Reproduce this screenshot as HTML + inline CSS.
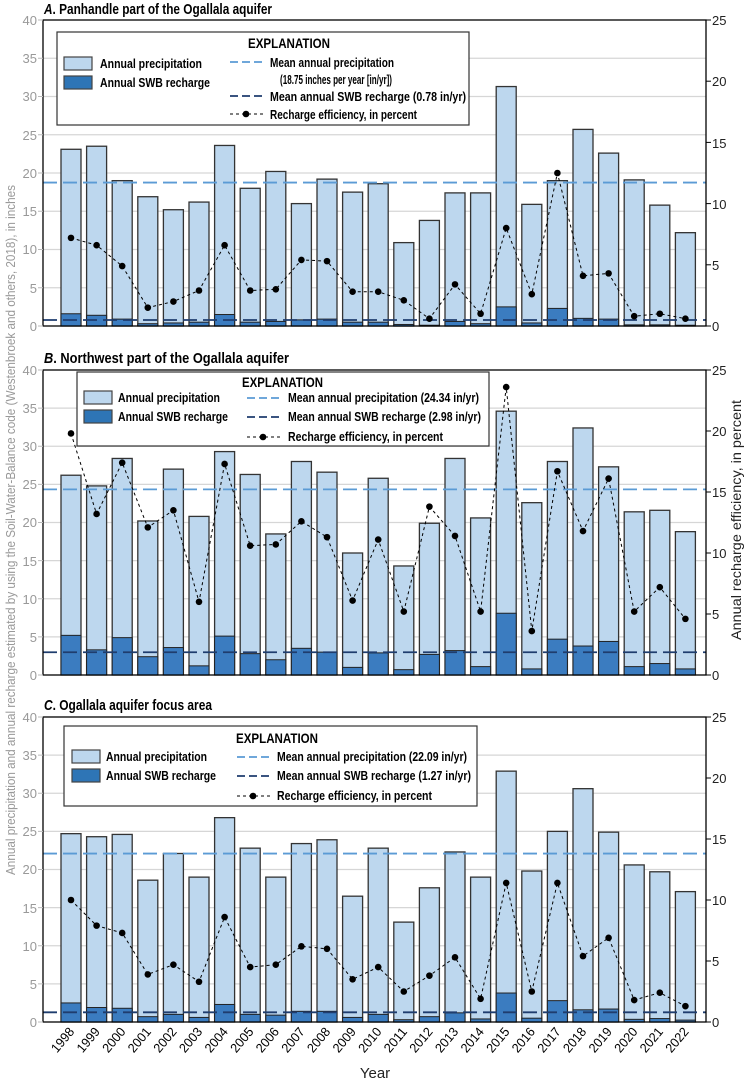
<!DOCTYPE html>
<html><head><meta charset="utf-8">
<style>
html,body{margin:0;padding:0;background:#fff;}
svg{display:block;font-family:"Liberation Sans Narrow","Liberation Sans",sans-serif;}
.t{font-weight:bold;font-size:15px;fill:#000;}
.lg{font-weight:bold;font-size:13px;fill:#000;}
.ll{font-size:13px;fill:#999;text-anchor:end;}
.rl{font-size:13px;fill:#222;}
.yr{font-size:13px;fill:#000;text-anchor:end;}
</style></head><body>
<svg id="s" width="749" height="1083" viewBox="0 0 749 1083" xmlns="http://www.w3.org/2000/svg">
<g id="g"></g>
<text class="t" x="44" y="14" textLength="228" lengthAdjust="spacingAndGlyphs"><tspan font-style="italic">A</tspan>. Panhandle part of the Ogallala aquifer</text>
<text class="t" x="44" y="363" textLength="245" lengthAdjust="spacingAndGlyphs"><tspan font-style="italic">B</tspan>. Northwest part of the Ogallala aquifer</text>
<text class="t" x="44" y="710" textLength="168" lengthAdjust="spacingAndGlyphs"><tspan font-style="italic">C</tspan>. Ogallala aquifer focus area</text>
<g class="ll">
<text x="37" y="25">40</text><text x="37" y="63">35</text><text x="37" y="101">30</text><text x="37" y="140">25</text><text x="37" y="178">20</text><text x="37" y="216">15</text><text x="37" y="254">10</text><text x="37" y="293">5</text><text x="37" y="331">0</text>
<text x="37" y="375">40</text><text x="37" y="413">35</text><text x="37" y="451">30</text><text x="37" y="489">25</text><text x="37" y="527">20</text><text x="37" y="566">15</text><text x="37" y="604">10</text><text x="37" y="642">5</text><text x="37" y="680">0</text>
<text x="37" y="722">40</text><text x="37" y="760">35</text><text x="37" y="798">30</text><text x="37" y="836">25</text><text x="37" y="874">20</text><text x="37" y="913">15</text><text x="37" y="951">10</text><text x="37" y="989">5</text><text x="37" y="1027">0</text>
</g>
<g class="rl">
<text x="712" y="25">25</text><text x="712" y="86">20</text><text x="712" y="148">15</text><text x="712" y="209">10</text><text x="712" y="270">5</text><text x="712" y="331">0</text>
<text x="712" y="375">25</text><text x="712" y="436">20</text><text x="712" y="497">15</text><text x="712" y="558">10</text><text x="712" y="619">5</text><text x="712" y="680">0</text>
<text x="712" y="722">25</text><text x="712" y="783">20</text><text x="712" y="844">15</text><text x="712" y="905">10</text><text x="712" y="966">5</text><text x="712" y="1027">0</text>
</g>
<text transform="translate(15,530) rotate(-90)" text-anchor="middle" font-size="13" fill="#999" textLength="690" lengthAdjust="spacingAndGlyphs">Annual precipitation and annual recharge estimated by using the Soil-Water-Balance code (Westenbroek and others, 2018), in inches</text>
<text transform="translate(741,520) rotate(-90)" text-anchor="middle" font-size="14" fill="#222" textLength="240" lengthAdjust="spacingAndGlyphs">Annual recharge efficiency, in percent</text>
<g id="leg"></g>
<g class="lg">
<text x="248" y="48" font-size="14" textLength="82" lengthAdjust="spacingAndGlyphs">EXPLANATION</text>
<text x="100" y="68" textLength="102" lengthAdjust="spacingAndGlyphs">Annual precipitation</text>
<text x="100" y="87" textLength="110" lengthAdjust="spacingAndGlyphs">Annual SWB recharge</text>
<text x="270" y="67" textLength="124" lengthAdjust="spacingAndGlyphs">Mean annual precipitation</text>
<text x="280" y="84" textLength="112" lengthAdjust="spacingAndGlyphs">(18.75 inches per year [in/yr])</text>
<text x="270" y="101" textLength="196" lengthAdjust="spacingAndGlyphs">Mean annual SWB recharge (0.78 in/yr)</text>
<text x="270" y="119" textLength="147" lengthAdjust="spacingAndGlyphs">Recharge efficiency, in percent</text>

<text x="242" y="387" font-size="14" textLength="81" lengthAdjust="spacingAndGlyphs">EXPLANATION</text>
<text x="118" y="402" textLength="102" lengthAdjust="spacingAndGlyphs">Annual precipitation</text>
<text x="118" y="421" textLength="110" lengthAdjust="spacingAndGlyphs">Annual SWB recharge</text>
<text x="288" y="402" textLength="191" lengthAdjust="spacingAndGlyphs">Mean annual precipitation (24.34 in/yr)</text>
<text x="288" y="421" textLength="193" lengthAdjust="spacingAndGlyphs">Mean annual SWB recharge (2.98 in/yr)</text>
<text x="288" y="441" textLength="155" lengthAdjust="spacingAndGlyphs">Recharge efficiency, in percent</text>

<text x="236" y="743" font-size="14" textLength="82" lengthAdjust="spacingAndGlyphs">EXPLANATION</text>
<text x="106" y="761" textLength="101" lengthAdjust="spacingAndGlyphs">Annual precipitation</text>
<text x="106" y="780" textLength="110" lengthAdjust="spacingAndGlyphs">Annual SWB recharge</text>
<text x="277" y="761" textLength="190" lengthAdjust="spacingAndGlyphs">Mean annual precipitation (22.09 in/yr)</text>
<text x="277" y="780" textLength="194" lengthAdjust="spacingAndGlyphs">Mean annual SWB recharge (1.27 in/yr)</text>
<text x="277" y="800" textLength="155" lengthAdjust="spacingAndGlyphs">Recharge efficiency, in percent</text>
</g>
<g class="yr">
<text transform="translate(75,1032) rotate(-50)" textLength="28" lengthAdjust="spacingAndGlyphs">1998</text>
<text transform="translate(100.6,1032) rotate(-50)" textLength="28" lengthAdjust="spacingAndGlyphs">1999</text>
<text transform="translate(126.2,1032) rotate(-50)" textLength="28" lengthAdjust="spacingAndGlyphs">2000</text>
<text transform="translate(151.8,1032) rotate(-50)" textLength="28" lengthAdjust="spacingAndGlyphs">2001</text>
<text transform="translate(177.4,1032) rotate(-50)" textLength="28" lengthAdjust="spacingAndGlyphs">2002</text>
<text transform="translate(203,1032) rotate(-50)" textLength="28" lengthAdjust="spacingAndGlyphs">2003</text>
<text transform="translate(228.6,1032) rotate(-50)" textLength="28" lengthAdjust="spacingAndGlyphs">2004</text>
<text transform="translate(254.2,1032) rotate(-50)" textLength="28" lengthAdjust="spacingAndGlyphs">2005</text>
<text transform="translate(279.8,1032) rotate(-50)" textLength="28" lengthAdjust="spacingAndGlyphs">2006</text>
<text transform="translate(305.4,1032) rotate(-50)" textLength="28" lengthAdjust="spacingAndGlyphs">2007</text>
<text transform="translate(331,1032) rotate(-50)" textLength="28" lengthAdjust="spacingAndGlyphs">2008</text>
<text transform="translate(356.6,1032) rotate(-50)" textLength="28" lengthAdjust="spacingAndGlyphs">2009</text>
<text transform="translate(382.2,1032) rotate(-50)" textLength="28" lengthAdjust="spacingAndGlyphs">2010</text>
<text transform="translate(407.8,1032) rotate(-50)" textLength="28" lengthAdjust="spacingAndGlyphs">2011</text>
<text transform="translate(433.4,1032) rotate(-50)" textLength="28" lengthAdjust="spacingAndGlyphs">2012</text>
<text transform="translate(459,1032) rotate(-50)" textLength="28" lengthAdjust="spacingAndGlyphs">2013</text>
<text transform="translate(484.6,1032) rotate(-50)" textLength="28" lengthAdjust="spacingAndGlyphs">2014</text>
<text transform="translate(510.2,1032) rotate(-50)" textLength="28" lengthAdjust="spacingAndGlyphs">2015</text>
<text transform="translate(535.8,1032) rotate(-50)" textLength="28" lengthAdjust="spacingAndGlyphs">2016</text>
<text transform="translate(561.4,1032) rotate(-50)" textLength="28" lengthAdjust="spacingAndGlyphs">2017</text>
<text transform="translate(587,1032) rotate(-50)" textLength="28" lengthAdjust="spacingAndGlyphs">2018</text>
<text transform="translate(612.6,1032) rotate(-50)" textLength="28" lengthAdjust="spacingAndGlyphs">2019</text>
<text transform="translate(638.2,1032) rotate(-50)" textLength="28" lengthAdjust="spacingAndGlyphs">2020</text>
<text transform="translate(663.8,1032) rotate(-50)" textLength="28" lengthAdjust="spacingAndGlyphs">2021</text>
<text transform="translate(689.4,1032) rotate(-50)" textLength="28" lengthAdjust="spacingAndGlyphs">2022</text>
</g>
<text x="375" y="1078" text-anchor="middle" font-size="15" fill="#222">Year</text>
</svg>
<script>
(function(){
var NS="http://www.w3.org/2000/svg",g=document.getElementById("g"),lg=document.getElementById("leg");
function el(p,n,a){var e=document.createElementNS(NS,n);for(var k in a)e.setAttribute(k,a[k]);p.appendChild(e);return e;}
var P=[
{top:20,bot:326,mp:18.75,mr:0.78,
pr:[23.1,23.5,19,16.9,15.2,16.2,23.6,18,20.2,16,19.2,17.5,18.6,10.9,13.8,17.4,17.4,31.3,15.9,19,25.7,22.6,19.1,15.8,12.2],
rc:[1.6,1.4,0.9,0.3,0.4,0.5,1.5,0.5,0.6,0.8,0.9,0.5,0.5,0.2,0.1,0.6,0.3,2.5,0.4,2.3,1.0,0.9,0.15,0.15,0.1],
ef:[7.2,6.6,4.9,1.5,2.0,2.9,6.6,2.9,3.0,5.4,5.3,2.8,2.8,2.1,0.6,3.4,1.0,8.0,2.6,12.5,4.1,4.3,0.8,1.0,0.6],
leg:[57,32,469,125]},
{top:370,bot:675,mp:24.34,mr:2.98,
pr:[26.2,24.8,28.4,20.2,27,20.8,29.3,26.3,18.5,28,26.6,16,25.8,14.3,19.9,28.4,20.6,34.6,22.6,28,32.4,27.3,21.4,21.6,18.8],
rc:[5.2,3.3,4.9,2.4,3.6,1.2,5.1,2.8,2.0,3.5,3.0,1.0,2.9,0.7,2.7,3.2,1.1,8.1,0.8,4.7,3.8,4.4,1.1,1.5,0.8],
ef:[19.8,13.2,17.4,12.1,13.5,6.0,17.3,10.6,10.7,12.6,11.3,6.1,11.1,5.2,13.8,11.4,5.2,23.6,3.6,16.7,11.8,16.1,5.2,7.2,4.6],
leg:[77,372,489,446]},
{top:717,bot:1022,mp:22.09,mr:1.27,
pr:[24.7,24.3,24.6,18.6,22.1,19,26.8,22.8,19,23.4,23.9,16.5,22.8,13.1,17.6,22.3,19,32.9,19.8,25,30.6,24.9,20.6,19.7,17.1],
rc:[2.5,1.9,1.8,0.7,1.0,0.6,2.3,1.0,0.9,1.4,1.4,0.6,1.0,0.3,0.7,1.2,0.4,3.8,0.5,2.8,1.6,1.7,0.35,0.45,0.25],
ef:[10,7.9,7.3,3.9,4.7,3.3,8.6,4.5,4.7,6.2,6.0,3.5,4.5,2.5,3.8,5.3,1.9,11.4,2.5,11.4,5.4,6.9,1.8,2.4,1.3],
leg:[64,726,477,806]}];
var X0=43,X1=706;
P.forEach(function(p,pi){
 var h=p.bot-p.top;
 function yl(v){return p.bot-v/40*h;}
 function yr(v){return p.bot-v/25*h;}
 for(var v=5;v<40;v+=5) el(g,"line",{x1:X0,x2:X1,y1:yl(v),y2:yl(v),stroke:"#d6d6d6","stroke-width":1.2});
 var pts=[];
 for(var i=0;i<25;i++){
  var cx=71+25.6*i;
  el(g,"rect",{x:cx-10,y:yl(p.pr[i]),width:20,height:p.bot-yl(p.pr[i]),fill:"#bdd7ee",stroke:"#333","stroke-width":1.3});
  el(g,"rect",{x:cx-10,y:yl(p.rc[i]),width:20,height:p.bot-yl(p.rc[i]),fill:"#3b7cc0",stroke:"#222","stroke-width":1});
  pts.push([cx,yr(p.ef[i])]);
 }
 el(g,"line",{x1:X0,x2:X1,y1:yl(p.mp),y2:yl(p.mp),stroke:"#5b9bd5","stroke-width":1.8,"stroke-dasharray":"14,6"});
 el(g,"line",{x1:X0,x2:X1,y1:yl(p.mr),y2:yl(p.mr),stroke:"#1f3d6e","stroke-width":1.8,"stroke-dasharray":"14,6"});
 el(g,"polyline",{points:pts.map(function(q){return q.join(",")}).join(" "),fill:"none",stroke:"#000","stroke-width":1,"stroke-dasharray":"3,3"});
 pts.forEach(function(q){el(g,"circle",{cx:q[0],cy:q[1],r:3.3,fill:"#000"});});
 el(g,"rect",{x:X0,y:p.top,width:X1-X0,height:h,fill:"none",stroke:"#000","stroke-width":1.3});
 for(var t=0;t<=25;t+=5) el(g,"line",{x1:X1,x2:X1+5,y1:yr(t),y2:yr(t),stroke:"#000","stroke-width":1});
 for(var t=0;t<=40;t+=5) el(g,"line",{x1:X0-5,x2:X0,y1:yl(t),y2:yl(t),stroke:"#bbb","stroke-width":1});
 var L=p.leg;
 el(lg,"rect",{x:L[0],y:L[1],width:L[2]-L[0],height:L[3]-L[1],fill:"#fff",stroke:"#333","stroke-width":1.2});
 var sx=[64,84,72][pi],sy=[57,391,750][pi],lx=[230,247,237][pi];
 var ly=[[62,96,114],[398,417,437],[757,776,796]][pi];
 el(lg,"rect",{x:sx,y:sy,width:28,height:13,fill:"#bdd7ee",stroke:"#444","stroke-width":1.2});
 el(lg,"rect",{x:sx,y:sy+19,width:28,height:13,fill:"#2e75b6",stroke:"#444","stroke-width":1.2});
 el(lg,"line",{x1:lx,x2:lx+33,y1:ly[0],y2:ly[0],stroke:"#5b9bd5","stroke-width":1.8,"stroke-dasharray":"8,4"});
 el(lg,"line",{x1:lx,x2:lx+33,y1:ly[1],y2:ly[1],stroke:"#1f3d6e","stroke-width":1.8,"stroke-dasharray":"8,4"});
 el(lg,"line",{x1:lx,x2:lx+33,y1:ly[2],y2:ly[2],stroke:"#000","stroke-width":1,"stroke-dasharray":"3,3"});
 el(lg,"circle",{cx:lx+16,cy:ly[2],r:3.3,fill:"#000"});
});
})();
</script>
</body></html>
